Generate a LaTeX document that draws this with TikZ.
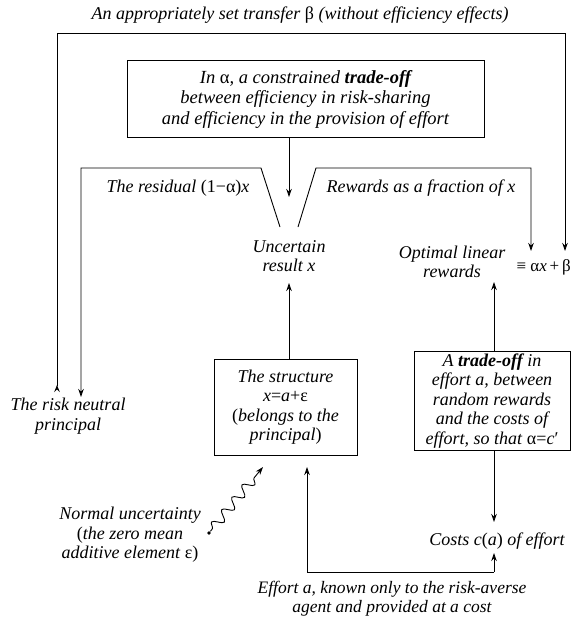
\documentclass[tikz,border=0pt]{standalone}
\usepackage{fontspec}
\setmainfont{Liberation Serif}
\usetikzlibrary{arrows.meta,decorations.pathmorphing,calc}
\begin{document}
\begin{tikzpicture}[x=1pt,y=-1pt,
  txt/.style={font=\fontsize{18}{19.5}\selectfont\itshape, align=center, inner sep=0pt},
  boxnode/.style={txt, draw, line width=1pt},
  arr/.style={line width=0.9pt, -{Stealth[length=8pt,width=5.5pt,inset=2.5pt]}},
  ln/.style={line width=0.9pt}]
\useasboundingbox (0,0) rectangle (572,623);
% texts
\node[txt] (transfer) at (300,15) {An appropriately set transfer \textup{β} (without efficiency effects)};
\node[boxnode, minimum width=357pt, minimum height=76pt, font=\fontsize{18.5}{20.5}\selectfont\itshape] (trade) at (305.5,99)
  {In \textup{α}, a constrained \textbf{trade-off}\\between efficiency in risk-sharing\\and efficiency in the provision of effort};
\node[txt] (residual) at (178,188) {The residual \textup{(1−α)}x};
\node[txt] (fraction) at (421,188) {Rewards as a fraction of x};
\node[txt] (result) at (289,256) {Uncertain\\result x};
\node[txt] (opt) at (452,262) {Optimal linear\\rewards};
\node[txt, anchor=east, font=\fontsize{17}{19}\selectfont\itshape] (eq) at (571,267) {\textup{≡ α}x\,\textup{+\,β}};
\node[txt] (principal) at (68,416) {The risk neutral\\principal};
\node[boxnode, minimum width=143pt, minimum height=96pt] (struct) at (285.5,407)
  {The structure\\x\textup{=}a\textup{+ε}\\\textup{(}belongs to the\\principal\textup{)}};
\node[boxnode, minimum width=156pt, minimum height=99pt, inner sep=1pt] (rbox) at (492,401)
  {A \textbf{trade-off} in\\effort a, between\\random rewards\\and the costs of\\effort, so that \textup{α=}c\textup{′}};
\node[txt] (normal) at (130,535) {Normal uncertainty\\\textup{(}the zero mean\\additive element \textup{ε)}};
\node[txt] (costs) at (497,541) {Costs c\textup{(}a\textup{)} of effort};
\node[txt, font=\fontsize{17.5}{19}\selectfont\itshape] (effort) at (392,599) {Effort a, known only to the risk-averse\\agent and provided at a cost};
\node[circle, fill, inner sep=1.4pt] (dot) at (209,533) {};
% coordinates
\coordinate (c1) at (57,33);
\coordinate (c2) at (565,33);
\coordinate (lb0) at (280,227);
\coordinate (lb1) at (261,168);
\coordinate (lbc) at (81,168);
\coordinate (rb0) at (298,227);
\coordinate (rb1) at (316,168);
\coordinate (rbc) at (531,168);
\coordinate (tip1) at (289,197);
\coordinate (tip2) at (289,283);
\coordinate (tip3) at (494,282);
\coordinate (pL) at (57,392);
\coordinate (pR) at (81,397);
\coordinate (wtip) at (263,467);
\coordinate (ef1) at (307,572);
\coordinate (ef2) at (494,572);
\coordinate (tip4) at (307,467);
\coordinate (tip5) at (494,553);
\coordinate (tip6) at (494,522);
\coordinate (tipA) at (531,251);
\coordinate (tipB) at (565,251);
% connectors
\draw[line width=0.9pt, {Stealth[reversed,length=7pt,width=5.5pt,inset=2.5pt]}-{Stealth[length=8pt,width=5.5pt,inset=2.5pt]}]
  (pL) -- (c1) -- (c2) -- (tipB);
\draw[arr] (lb0) -- (lb1) -- (lbc) -- (pR);
\draw[arr] (rb0) -- (rb1) -- (rbc) -- (tipA);
\draw[arr] (trade.south -| tip1) -- (tip1);
\draw[arr] (struct.north -| tip2) -- (tip2);
\draw[arr] (rbox.north -| tip3) -- (tip3);
\draw[arr] (rbox.south -| tip6) -- (tip6);
\draw[ln] (ef1) -- (ef2);
\draw[arr] (ef2) -- (tip5);
\draw[arr] (ef1) -- (tip4);
\draw[arr, decorate, decoration={snake, amplitude=5pt, segment length=16pt, pre length=3pt, post length=6pt}] (dot) -- (wtip);
\end{tikzpicture}
\end{document}
